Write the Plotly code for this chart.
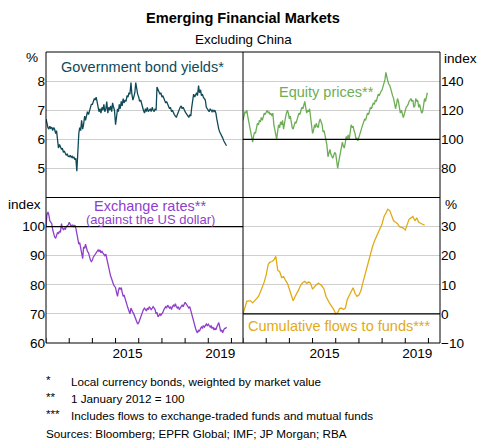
import pandas as pd
import plotly.graph_objects as go

# ---- data (semi-monthly for market series, monthly for fund flows) ----
bond_yields = [
    6.70, 6.55, 6.40, 6.35, 6.45, 6.38, 6.42, 6.30, 6.40, 6.35, 6.20, 6.30, 5.95, 5.70, 5.82, 5.75, 5.65, 5.70, 5.55, 5.60, 5.50, 5.45, 5.50, 5.42,
    5.40, 5.45, 5.38, 5.42, 5.35, 5.40, 5.30, 5.35, 4.90, 5.60, 6.20, 6.40, 6.30, 6.65, 6.35, 6.50, 6.80, 6.65, 6.90, 6.95, 6.85, 7.00, 7.05, 7.20,
    7.20, 7.30, 7.40, 7.35, 7.45, 7.30, 7.10, 6.95, 7.05, 6.90, 7.10, 7.00, 7.20, 6.95, 7.05, 7.30, 6.90, 7.10, 7.00, 7.15, 6.95, 7.25, 7.10, 7.00,
    6.50, 6.85, 7.05, 6.95, 7.20, 7.05, 7.30, 7.15, 7.40, 7.25, 7.35, 7.30, 7.50, 7.45, 7.60, 7.55, 7.95, 7.55, 7.35, 7.45, 7.60, 7.95, 7.70, 7.55,
    7.45, 7.30, 7.35, 7.20, 7.10, 7.00, 6.90, 7.05, 6.95, 7.10, 6.95, 7.00, 7.05, 6.95, 7.10, 7.00, 6.95, 7.05, 7.00, 7.80, 7.70, 7.65, 7.55, 7.60,
    7.45, 7.50, 7.40, 7.35, 7.25, 7.30, 7.20, 7.15, 7.05, 7.10, 6.95, 7.00, 6.90, 6.85, 6.80, 6.75, 6.85, 6.95, 7.00, 7.10, 7.15, 7.05, 7.10, 7.00,
    6.95, 6.90, 6.85, 6.80, 6.75, 6.85, 6.80, 7.10, 7.40, 7.55, 7.45, 7.50, 7.60, 7.50, 7.85, 7.60, 7.70, 7.50, 7.55, 7.45, 7.40, 7.35, 7.10, 7.05,
    7.00, 6.95, 7.05, 7.00, 6.95, 7.00, 6.95, 7.00, 6.90, 6.70, 6.40, 6.35, 6.25, 6.20, 6.10, 6.05, 5.95, 5.90, 5.85, 5.78,
]

equity_prices = [
    113, 116, 119, 118, 120, 116, 112, 108, 104, 100, 98, 102, 105, 104, 108, 111, 110, 113, 112, 115, 113, 116, 118, 117,
    119, 120, 118, 119, 117, 118, 116, 118, 110, 106, 102, 100, 106, 110, 108, 112, 110, 113, 107, 112, 115, 118, 120, 118,
    114, 116, 110, 108, 107, 109, 112, 111, 114, 116, 118, 117, 120, 122, 121, 124, 126, 122, 118, 120, 119, 121, 116, 112,
    104, 106, 110, 108, 111, 109, 108, 112, 114, 112, 110, 105, 106, 103, 100, 96, 88, 91, 93, 90, 88, 87, 89, 91,
    90, 86, 80, 84, 88, 92, 96, 98, 95, 94, 98, 102, 100, 103, 100, 105, 110, 108, 109, 106, 104, 100, 101, 99,
    101, 103, 106, 108, 110, 112, 114, 113, 116, 118, 117, 120, 122, 121, 123, 125, 124, 127, 126, 129, 131, 130, 132, 133,
    134, 136, 138, 141, 146, 142, 140, 138, 137, 135, 133, 130, 128, 124, 121, 124, 128, 126, 122, 118, 120, 117, 115, 117,
    120, 122, 123, 124, 126, 127, 128, 126, 127, 122, 123, 128, 126, 127, 122, 124, 121, 118, 119, 122, 128, 126, 130, 132,
]

exchange_rates = [
    100.0, 104.0, 105.0, 104.0, 102.0, 101.5, 101.0, 99.0, 97.0, 96.5, 96.0, 97.5, 98.0, 97.5, 98.5, 98.0, 101.0, 99.5, 99.0, 99.5, 99.0, 100.0, 100.5, 100.5,
    101.5, 100.5, 100.0, 100.5, 100.5, 100.0, 100.5, 99.5, 97.0, 96.0, 94.0, 94.5, 93.0, 91.5, 89.0, 93.0, 92.5, 94.0, 92.0, 91.5, 91.0, 89.5, 88.5, 88.0,
    88.5, 89.5, 90.0, 90.5, 91.0, 91.5, 92.0, 91.5, 92.0, 91.0, 91.5, 91.0, 90.5, 90.0, 90.5, 89.0, 87.0, 85.5, 84.0, 83.0, 82.0, 80.5, 80.0, 79.5,
    79.0, 77.5, 76.0, 78.0, 79.0, 78.5, 79.0, 77.5, 76.0, 76.5, 75.0, 74.0, 73.0, 72.0, 71.0, 70.0, 72.0, 71.0, 70.5, 70.0, 69.0, 68.0, 67.5, 66.5,
    67.0, 68.0, 68.5, 69.5, 71.0, 71.5, 72.0, 71.5, 71.0, 72.0, 71.5, 72.5, 72.0, 71.5, 72.0, 72.5, 72.0, 71.5, 70.0, 70.5, 69.0, 69.5, 70.0, 69.5,
    70.0, 70.5, 71.5, 72.0, 72.5, 72.0, 73.0, 72.5, 72.0, 72.5, 71.5, 72.5, 73.0, 72.5, 73.5, 72.5, 72.0, 72.5, 71.5, 72.0, 72.5, 73.0, 72.5, 73.5,
    74.0, 73.5, 73.0, 72.5, 72.0, 72.5, 71.0, 69.5, 68.0, 67.0, 66.0, 65.0, 64.0, 63.5, 64.5, 64.0, 65.0, 65.5, 65.0, 66.0, 65.5, 66.0, 66.5, 66.0,
    66.5, 66.0, 65.5, 66.0, 65.0, 65.5, 64.5, 65.0, 64.5, 65.5, 66.5, 67.0, 65.5, 64.0, 64.5, 63.5, 64.5, 65.0, 65.0, 65.5,
]

fund_flows = [
    0.0, 2.5, 4.3, 4.5, 4.5, 3.8, 4.5, 5.5, 6.0, 7.5, 9.0, 11.0,
    13.5, 17.0, 17.8, 18.0, 18.5, 19.8, 15.0, 14.5, 12.5, 12.8, 11.5, 10.5,
    8.5, 6.0, 4.5, 6.0, 7.0, 8.5, 10.0, 10.8, 11.2, 10.5, 11.0, 10.5,
    8.5, 9.5, 10.0, 10.5, 10.2, 9.5, 8.5, 6.0, 4.5, 3.5, 2.5, 1.5,
    0.0, 0.5, 1.8, 2.0, 1.5, 2.0, 5.0, 6.5, 7.5, 9.0, 7.0, 6.0,
    6.5, 8.0, 10.5, 13.0, 16.0, 18.5, 21.0, 23.0, 25.0, 26.5, 27.5, 29.0,
    31.0, 33.5, 35.0, 36.0, 35.5, 34.0, 32.0, 31.5, 31.0, 30.0, 29.8, 29.5,
    28.8, 31.0, 32.5, 33.0, 33.5, 32.0, 33.0, 31.5, 31.0, 30.8, 30.5,
]

bond_dates = pd.date_range("2012-01-01", periods=len(bond_yields), freq="SMS")
equity_dates = pd.date_range("2012-01-01", periods=len(equity_prices), freq="SMS")
fx_dates = pd.date_range("2012-01-01", periods=len(exchange_rates), freq="SMS")
flow_dates = pd.date_range("2012-01-01", periods=len(fund_flows), freq="MS")

# yearly ticks; labels are shown only for 2015 and 2019, centred on the year
year_starts = [f"{y}-01-01" for y in range(2012, 2021)]
year_text = ["", "", "", "2015", "", "", "", "2019", ""]
x_range = ["2012-01-01", "2020-07-01"]

C_BOND = "#0f4a58"
C_EQ = "#6cae55"
C_FX = "#8e3fcb"
C_FLOW = "#e2aa14"
GRID = "#cfcfcf"
FONT = "Arial, Liberation Sans, sans-serif"

fig = go.Figure()
fig.add_trace(go.Scatter(x=bond_dates, y=bond_yields, mode="lines",
                         line=dict(color=C_BOND, width=1.3), xaxis="x", yaxis="y"))
fig.add_trace(go.Scatter(x=equity_dates, y=equity_prices, mode="lines",
                         line=dict(color=C_EQ, width=1.3), xaxis="x2", yaxis="y2"))
fig.add_trace(go.Scatter(x=fx_dates, y=exchange_rates, mode="lines",
                         line=dict(color=C_FX, width=1.3), xaxis="x3", yaxis="y3"))
fig.add_trace(go.Scatter(x=flow_dates, y=fund_flows, mode="lines",
                         line=dict(color=C_FLOW, width=1.3), xaxis="x4", yaxis="y4"))

tick_font = dict(family=FONT, size=13.6, color="black")

top_x = dict(range=x_range, type="date", showticklabels=False, ticks="",
             showgrid=False, zeroline=False, showline=False)
bottom_x = dict(range=x_range, type="date", tickmode="array",
                tickvals=year_starts, ticktext=year_text, ticks="",
                ticklabelshift=12,
                tickfont=tick_font, showgrid=False, zeroline=False, showline=False)

def y_axis(rng, vals, side, domain, anchor):
    return dict(range=rng, tickmode="array", tickvals=vals, side=side,
                domain=domain, anchor=anchor, ticks="", tickfont=tick_font,
                showgrid=True, gridcolor=GRID, gridwidth=1.3,
                zeroline=False, showline=False)

fig.update_layout(
    width=479, height=440,
    margin=dict(l=46, r=39, t=52, b=97),
    paper_bgcolor="white", plot_bgcolor="white",
    showlegend=False,
    font=dict(family=FONT, color="black"),
    xaxis=dict(top_x, domain=[0, 0.5], anchor="y"),
    xaxis2=dict(top_x, domain=[0.5, 1], anchor="y2"),
    xaxis3=dict(bottom_x, domain=[0, 0.5], anchor="y3"),
    xaxis4=dict(bottom_x, domain=[0.5, 1], anchor="y4"),
    yaxis=y_axis([4, 9], [5, 6, 7, 8], "left", [0.5, 1], "x"),
    yaxis2=y_axis([60, 160], [80, 100, 120, 140], "right", [0.5, 1], "x2"),
    yaxis3=y_axis([60, 110], [60, 70, 80, 90, 100], "left", [0, 0.5], "x3"),
    yaxis4=y_axis([-10, 40], [-10, 0, 10, 20, 30], "right", [0, 0.5], "x4"),
)

# panel frame and dividers
frame = dict(color="black", width=1)
fig.add_shape(type="rect", xref="paper", yref="paper", x0=0, x1=1, y0=0, y1=1, line=frame)
fig.add_shape(type="line", xref="paper", yref="paper", x0=0.5, x1=0.5, y0=0, y1=1, line=frame)
fig.add_shape(type="line", xref="paper", yref="paper", x0=0, x1=1, y0=0.5, y1=0.5, line=frame)

# base-value reference lines (equity and FX index = 100, flows = 0)
for xr, yr, val in [("x2", "y2", 100), ("x3", "y3", 100), ("x4", "y4", 0)]:
    fig.add_shape(type="line", xref=xr, yref=yr, x0=x_range[0], x1=x_range[1],
                  y0=val, y1=val, line=dict(color="black", width=1.3))

# upward year tick marks along the bottom edge of the lower panels
TICK_FRAC = 5.0 / 145.5
for xr, yr in [("x3", "y3 domain"), ("x4", "y4 domain")]:
    for d in year_starts:
        fig.add_shape(type="line", xref=xr, yref=yr, x0=d, x1=d, y0=0, y1=TICK_FRAC,
                      line=dict(color="black", width=1))

def note(text, x, y, size, color="black", xanchor="center", bold=False):
    fig.add_annotation(text=f"<b>{text}</b>" if bold else text, x=x, y=y,
                       xref="paper", yref="paper", xanchor=xanchor, yanchor="middle",
                       showarrow=False, font=dict(family=FONT, size=size, color=color))

def px(x):
    return (x - 46) / 394.0

def py(y):
    return (343 - y) / 291.0

note("Emerging Financial Markets", px(243), py(18), 14.6, bold=True)
note("Excluding China", px(243), py(40), 13.4)

note("%", px(40), py(57.5), 13.6, xanchor="right")
note("index", px(442), py(58), 13.6, xanchor="left")
note("index", px(43), py(204.5), 13.6, xanchor="right")
note("%", px(443), py(204.5), 13.6, xanchor="left")

note("Government bond yields*", px(142), py(67), 14.5, C_BOND)
note("Equity prices**", px(326), py(92), 14.5, C_EQ)
note("Exchange rates**", px(150), py(206), 14.5, C_FX)
note("(against the US dollar)", px(150), py(219), 13, C_FX)
note("Cumulative flows to funds***", px(339), py(326), 14.5, C_FLOW)

footnotes = [
    ("*", "Local currency bonds, weighted by market value", 381.5),
    ("**", "1 January 2012 = 100", 398),
    ("***", "Includes flows to exchange-traded funds and mutual funds", 415),
]
for mark, text, y in footnotes:
    note(mark, px(44), py(y - 2), 11.7, xanchor="left")
    note(text, px(68.5), py(y), 11.7, xanchor="left")
note("Sources: Bloomberg; EPFR Global; IMF; JP Morgan; RBA", px(43.5), py(433), 11.7, xanchor="left")

fig.write_html("out.html")
